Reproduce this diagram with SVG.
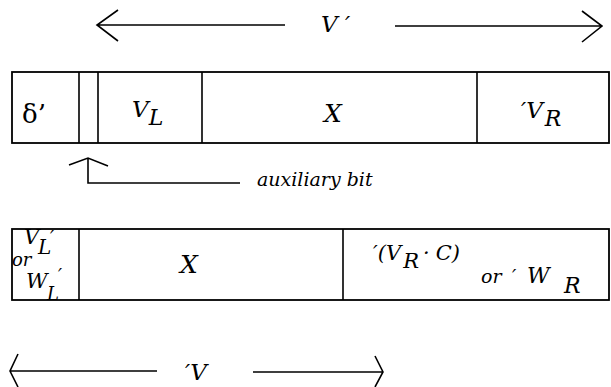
<svg xmlns="http://www.w3.org/2000/svg" width="611" height="387" viewBox="0 0 611 387">
<style>
.ln{stroke:#000;stroke-width:1.6;fill:none}
.bx{stroke:#000;stroke-width:1.8;fill:#fff}
.t{font-family:'DejaVu Serif',serif;font-style:italic;fill:#000}
</style>
<rect width="611" height="387" fill="#fff"/>
<g id="connectors">
<path class="ln" d="M97 25 H285 M118 10 L97 25 L118 41"/>
<path class="ln" d="M395 26 H602 M582 11 L602 26 L582 42"/>
<path class="ln" d="M88 158 V183 H240 M69 165 L88 158 L108 166"/>
<path class="ln" d="M10 371 H157 M18 354 L10 371 L18 387"/>
<path class="ln" d="M253 372 H383 M375 356 L383 372 L375 387"/>
</g>
<g id="label-vprime"><text class="t" x="321" y="32" font-size="23">V ′</text></g>
<g id="label-primev"><text class="t" x="185" y="380" font-size="23">′V</text></g>
<g id="top-box">
<rect class="bx" x="12" y="72" width="597" height="71"/>
<path class="ln" d="M79 72 V143 M98 72 V143 M202 72 V143 M477 72 V143"/>
<text x="22" y="123" font-family="'DejaVu Serif',serif" font-size="26">δ’</text>
<text class="t" x="132" y="117" font-size="23">V<tspan font-size="22" dy="8">L</tspan></text>
<text class="t" x="324" y="122" font-size="25">X</text>
<text class="t" x="521" y="118" font-size="23">′V<tspan font-size="22" dx="2" dy="8">R</tspan></text>
</g>
<g id="aux-label"><text class="t" x="257" y="186" font-size="19">auxiliary bit</text></g>
<g id="bottom-box">
<rect class="bx" x="12" y="229" width="597" height="71"/>
<path class="ln" d="M79 229 V300 M343 229 V300"/>
<text class="t" x="24" y="244" font-size="21">V</text>
<text class="t" x="38" y="254" font-size="20">L</text>
<text class="t" x="50" y="244" font-size="18">′</text>
<text class="t" x="12" y="266" font-size="18">or</text>
<text class="t" x="26" y="288" font-size="21">W</text>
<text class="t" x="58" y="282" font-size="18">′</text>
<text class="t" x="47" y="300" font-size="18">L</text>
<text class="t" x="180" y="273" font-size="25">X</text>
<text class="t" x="373" y="260" font-size="21">′(V<tspan font-size="21" dx="2" dy="8">R</tspan><tspan dx="4" dy="-8">·</tspan><tspan dx="6">C)</tspan></text>
<text class="t" x="481" y="283" font-size="19">or<tspan x="512">′</tspan><tspan x="527" font-size="22">W</tspan><tspan x="564" font-size="22" dy="10">R</tspan></text>
</g>
</svg>
